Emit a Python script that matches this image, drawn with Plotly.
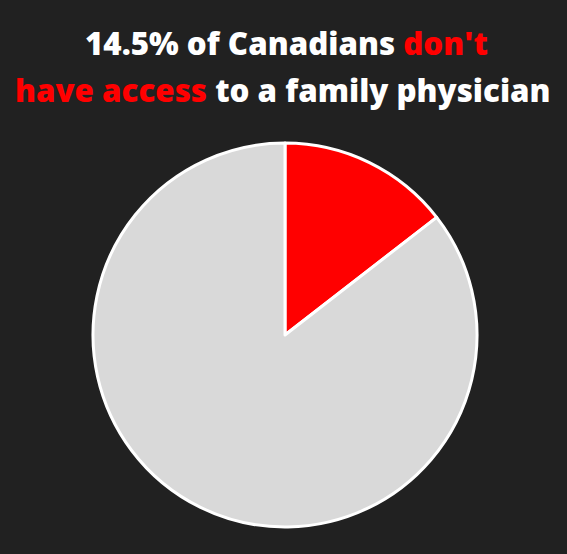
import plotly.graph_objects as go

labels = ["Don't have access", "Have access"]
values = [14.5, 85.5]
colors = ["#ff0000", "#d9d9d9"]
title_line1 = "14.5% of Canadians <span style='color:#ff0000'>don't</span>"
title_line2 = "<span style='color:#ff0000'>have access</span> to a family physician"

W, H = 567, 554
fig = go.Figure(go.Pie(
    labels=labels, values=values, sort=False, direction="clockwise", rotation=0,
    marker=dict(colors=colors, line=dict(color="white", width=3)),
    textinfo="none", showlegend=False,
    domain=dict(x=[93 / W, 477 / W], y=[27 / H, 411 / H]),
))
tfont = dict(family="Open Sans", size=31.3, color="white", weight=800)
fig.update_layout(
    width=W, height=H,
    paper_bgcolor="#212121", plot_bgcolor="#212121",
    margin=dict(l=0, r=0, t=0, b=0),
    annotations=[
        dict(x=286 / W, y=1 - 43 / H, xref="paper", yref="paper", xanchor="center", yanchor="middle",
             showarrow=False, text=title_line1, font=tfont),
        dict(x=283 / W, y=1 - 90 / H, xref="paper", yref="paper", xanchor="center", yanchor="middle",
             showarrow=False, text=title_line2, font=tfont),
    ],
)
fig.write_html("out.html", config={"displayModeBar": False},
               post_script="document.body.style.margin='0';document.body.style.background='#212121';")
